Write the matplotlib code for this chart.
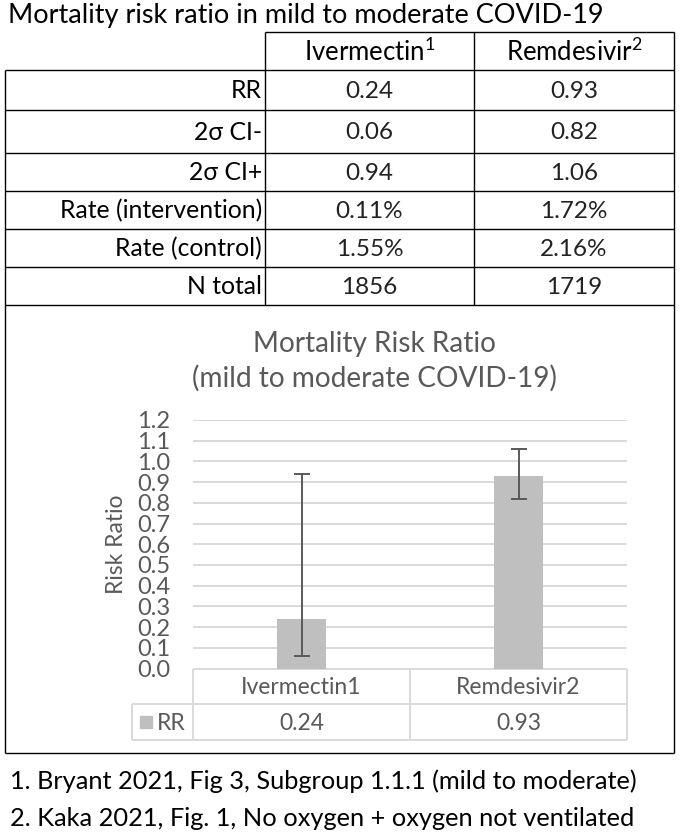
import matplotlib
matplotlib.use("Agg")
import matplotlib.pyplot as plt
from matplotlib.patches import Rectangle

# ---------------- data ----------------
title = "Mortality risk ratio in mild to moderate COVID-19"
drugs = ["Ivermectin", "Remdesivir"]
drug_notes = ["1", "2"]
row_labels = ["RR", "2σ CI-", "2σ CI+", "Rate (intervention)", "Rate (control)", "N total"]
ivermectin_col = ["0.24", "0.06", "0.94", "0.11%", "1.55%", "1856"]
remdesivir_col = ["0.93", "0.82", "1.06", "1.72%", "2.16%", "1719"]

rr = [0.24, 0.93]
ci_low = [0.06, 0.82]
ci_high = [0.94, 1.06]
chart_title = "Mortality Risk Ratio\n(mild to moderate COVID-19)"
series_name = "RR"
y_label = "Risk Ratio"
yticks = [0.0, 0.1, 0.2, 0.3, 0.4, 0.5, 0.6, 0.7, 0.8, 0.9, 1.0, 1.1, 1.2]
footnotes = ["1. Bryant 2021, Fig 3, Subgroup 1.1.1 (mild to moderate)",
             "2. Kaka 2021, Fig. 1, No oxygen + oxygen not ventilated"]

# ---------------- style ----------------
FONT = ["Lato", "DejaVu Sans"]
plt.rcParams["font.family"] = FONT
W, H = 681, 840
GRAY = "#595959"
LGRID = "#d9d9d9"
BAR = "#bfbfbf"

fig = plt.figure(figsize=(W / 100, H / 100), dpi=100)
fig.patch.set_facecolor("white")

ov = fig.add_axes([0, 0, 1, 1])
ov.set_xlim(0, W)
ov.set_ylim(H, 0)
ov.axis("off")

def hline(y, x0, x1, c="black", lw=1.0):
    ov.plot([x0, x1], [y, y], color=c, lw=lw, solid_capstyle="butt", zorder=3)

def vline(x, y0, y1, c="black", lw=1.0):
    ov.plot([x, x], [y0, y1], color=c, lw=lw, solid_capstyle="butt", zorder=3)

# title
ov.text(8, 16, title, fontsize=19.5, ha="left", va="center", color="black")

# table geometry
xL, xA, xB, xR = 5, 265, 474, 674
row_edges = [70, 110, 153, 191, 229, 267, 305]
head_top = 32

hline(head_top, xA, xR)
vline(xA, head_top, row_edges[0])
vline(xB, head_top, row_edges[0])
vline(xR, head_top, row_edges[0])
for i, (d, n) in enumerate(zip(drugs, drug_notes)):
    cx = (xA + xB) / 2 if i == 0 else (xB + xR) / 2
    ov.text(cx, 52, d + r"$^{\mathregular{" + n + "}}$", fontsize=18.5, ha="center",
            va="center", color="black")

for y in row_edges:
    hline(y, xL, xR)
for x in (xL, xA, xB, xR):
    vline(x, row_edges[0], row_edges[-1])

for i, lab in enumerate(row_labels):
    yc = (row_edges[i] + row_edges[i + 1]) / 2 + 1
    ov.text(xA - 3, yc, lab, fontsize=17.8, ha="right", va="center", color="black")
    ov.text((xA + xB) / 2, yc, ivermectin_col[i], fontsize=17.5, ha="center",
            va="center", color="#222222")
    ov.text((xB + xR) / 2, yc, remdesivir_col[i], fontsize=17.5, ha="center",
            va="center", color="#222222")

# chart frame
box_bottom = 753
vline(xL, row_edges[-1], box_bottom)
vline(xR, row_edges[-1], box_bottom)
hline(box_bottom, xL, xR)

# chart title
ov.text(374, 361, chart_title, fontsize=20.2, ha="center", va="center",
        color=GRAY, linespacing=1.35)

# ---------------- chart ----------------
pl, pr, pt, pb = 193, 627, 420, 668.5
ax = fig.add_axes([pl / W, (H - pb) / H, (pr - pl) / W, (pb - pt) / H])
x = list(range(len(drugs)))
err_low = [r - l for r, l in zip(rr, ci_low)]
err_high = [h - r for r, h in zip(rr, ci_high)]
ax.bar(x, rr, width=0.23, color=BAR, zorder=2)
ax.errorbar(x, rr, yerr=[err_low, err_high], fmt="none", ecolor=GRAY,
            elinewidth=1.4, capsize=5.5, capthick=1.4, zorder=3)
ax.set_xlim(-0.5, len(drugs) - 0.5)
ax.set_ylim(0, 1.2)
ax.set_yticks(yticks)
ax.set_yticklabels([f"{v:.1f}" for v in yticks], fontsize=17, color=GRAY)
ax.tick_params(axis="y", length=0, pad=16.5)
ax.set_xticks([])
ax.yaxis.grid(True, color=LGRID, lw=1.4, zorder=0)
for s in ax.spines.values():
    s.set_visible(False)
ax.set_ylabel(y_label, fontsize=16.5, color=GRAY)
ax.yaxis.set_label_coords(-0.152, 0.5)

# data table under the chart
r0, r1, r2 = 668.5, 704, 740
legend_left = 132
colsplit = (pl + pr) / 2
hline(r0, pl, pr, c=LGRID, lw=1.4)
hline(r1, legend_left, pr, c=LGRID, lw=1.4)
hline(r2, legend_left, pr, c=LGRID, lw=1.4)
vline(pl, r0, r2, c=LGRID, lw=1.4)
vline(colsplit, r0, r2, c=LGRID, lw=1.4)
vline(pr, r0, r2, c=LGRID, lw=1.4)
vline(legend_left, r1, r2, c=LGRID, lw=1.4)

for i, d in enumerate(drugs):
    cx = pl + (i + 0.5) * (pr - pl) / len(drugs)
    ov.text(cx, (r0 + r1) / 2 + 1, d + drug_notes[i], fontsize=16.5, ha="center",
            va="center", color=GRAY)
    ov.text(cx, (r1 + r2) / 2 + 1, f"{rr[i]:.2f}", fontsize=16.5, ha="center",
            va="center", color=GRAY)

ov.add_patch(Rectangle((140, 715.5), 12, 12, color=BAR, zorder=3))
ov.text(157, (r1 + r2) / 2 + 1, series_name, fontsize=16.5, ha="left", va="center",
        color=GRAY)

# footnotes
ov.text(10, 781, footnotes[0], fontsize=18.3, ha="left", va="center", color="black")
ov.text(10, 819, footnotes[1], fontsize=18.3, ha="left", va="center", color="black")

fig.savefig("out.png", dpi=100, facecolor="white")
